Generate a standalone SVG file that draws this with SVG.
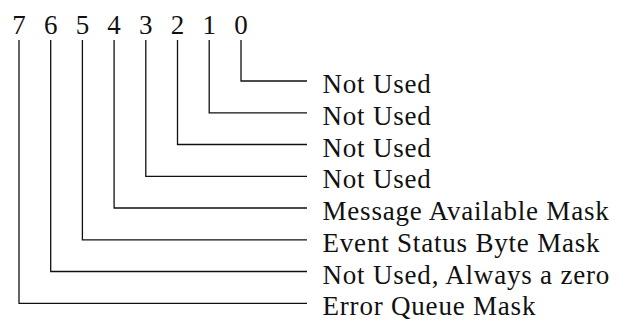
<svg xmlns="http://www.w3.org/2000/svg" width="620" height="322" viewBox="0 0 620 322">
  <style>
    .lbl { font-family: "Liberation Serif", "Times New Roman", serif; font-size: 27px; letter-spacing: 0.8px; fill: #111; }
    .bit { text-anchor: middle; letter-spacing: 0; }
    .wire { fill: none; stroke: #111; stroke-width: 1.3; }
  </style>
  <rect width="620" height="322" fill="#fff"/>

  <!-- bit numbers across the top -->
  <g id="bits">
    <text class="lbl bit" x="19" y="34">7</text>
    <text class="lbl bit" x="50.7" y="34">6</text>
    <text class="lbl bit" x="82.4" y="34">5</text>
    <text class="lbl bit" x="114.1" y="34">4</text>
    <text class="lbl bit" x="145.8" y="34">3</text>
    <text class="lbl bit" x="177.5" y="34">2</text>
    <text class="lbl bit" x="209.2" y="34">1</text>
    <text class="lbl bit" x="241" y="34">0</text>
  </g>

  <!-- leader lines from each bit to its description -->
  <g id="connectors">
    <path class="wire" d="M241 40 V81 H307"/>
    <path class="wire" d="M209.2 40 V112.8 H307"/>
    <path class="wire" d="M177.5 40 V144.5 H307"/>
    <path class="wire" d="M145.8 40 V176.3 H307"/>
    <path class="wire" d="M114.1 40 V208 H307"/>
    <path class="wire" d="M82.4 40 V239.8 H307"/>
    <path class="wire" d="M50.7 40 V271.5 H307"/>
    <path class="wire" d="M19 40 V303.3 H307"/>
  </g>

  <!-- bit descriptions -->
  <g id="bit0"><text class="lbl" x="322.5" y="93">Not Used</text></g>
  <g id="bit1"><text class="lbl" x="322.5" y="124.8">Not Used</text></g>
  <g id="bit2"><text class="lbl" x="322.5" y="156.5">Not Used</text></g>
  <g id="bit3"><text class="lbl" x="322.5" y="188.3">Not Used</text></g>
  <g id="bit4"><text class="lbl" x="322.5" y="220">Message Available Mask</text></g>
  <g id="bit5"><text class="lbl" x="322.5" y="251.8">Event Status Byte Mask</text></g>
  <g id="bit6"><text class="lbl" x="322.5" y="283.5">Not Used, Always a zero</text></g>
  <g id="bit7"><text class="lbl" x="322.5" y="315.3">Error Queue Mask</text></g>
</svg>
